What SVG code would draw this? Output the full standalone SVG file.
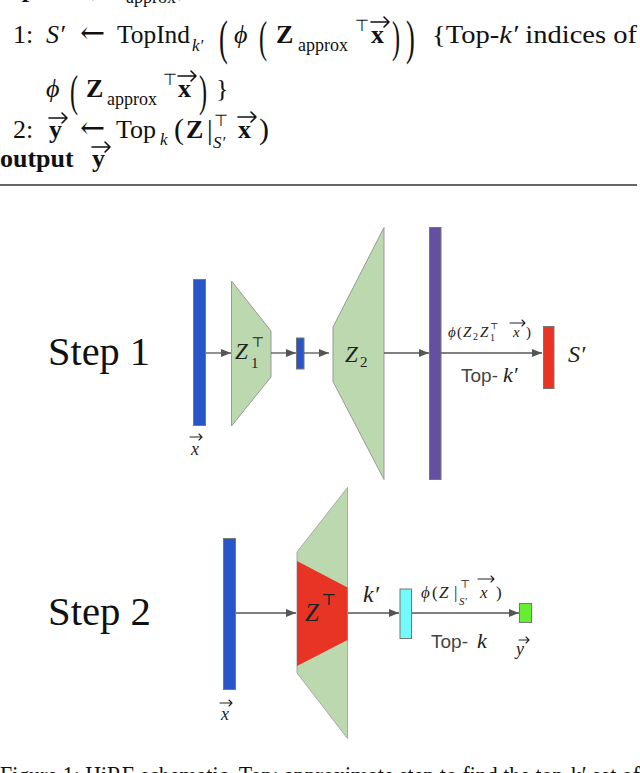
<svg xmlns="http://www.w3.org/2000/svg" width="640" height="773" viewBox="0 0 640 773">
<style>
.t{font-family:"Liberation Serif","Times New Roman",serif;fill:#111}
.ar{font-family:"DejaVu Serif",serif;fill:#111}
.i{font-style:italic}
.b{font-weight:bold}
.m{font-family:"Liberation Serif","DejaVu Serif",serif;fill:#222}
.s{font-family:"Liberation Sans",Arial,sans-serif;fill:#444}
.bar{stroke:#777;stroke-width:1}
.conn{stroke:#555;stroke-width:1.3;fill:none}
.vec{stroke:#222;stroke-width:1.1;fill:none;stroke-linecap:round;stroke-linejoin:round}
.avec{stroke:#111;stroke-width:1.6;fill:none;stroke-linecap:round;stroke-linejoin:round}
</style>
<defs>
<marker id="ah" markerWidth="10" markerHeight="8" refX="10" refY="4" orient="auto" markerUnits="userSpaceOnUse"><path d="M0,0 L10,4 L0,8 z" fill="#555"/></marker>
</defs>
<rect width="640" height="773" fill="#fff"/>

<!-- Algorithm text -->
<g id="algorithm">
<text class="t" font-size="26" y="-3"><tspan x="0" class="b">input</tspan><tspan x="74" class="b">Z</tspan><tspan>,</tspan><tspan class="b" x="104">Z</tspan></text>
<text class="t" font-size="18" x="126" y="3">approx</text>
<text class="t" font-size="26" x="178" y="-3">,</text>

<text class="t" font-size="26" x="13" y="43">1:</text>
<text class="t i" font-size="26" x="46" y="43">S′</text>
<text class="ar" font-size="30" x="80" y="43">←</text>
<text class="t" font-size="26" x="117" y="43" textLength="73" lengthAdjust="spacingAndGlyphs">TopInd</text>
<text class="t i" font-size="17" x="192" y="51">k′</text>
<text class="t" font-size="48" transform="translate(219,54) scale(0.55,1)">(</text>
<text class="t i" font-size="26" x="234" y="43">ϕ</text>
<text class="t" font-size="44" transform="translate(259,52) scale(0.55,1)">(</text>
<text class="t b" font-size="26" x="276" y="43">Z</text>
<text class="t" font-size="18" x="298" y="51">approx</text>
<text class="t" font-size="16" x="355" y="31">⊤</text>
<text class="t b" font-size="26" x="371" y="43">x</text>
<path class="avec" d="M371,22 H389 M384,17 L389,22 L384,27"/>
<text class="t" font-size="44" transform="translate(392,52) scale(0.55,1)">)</text>
<text class="t" font-size="48" transform="translate(406,54) scale(0.55,1)">)</text>
<text class="t" font-size="26" x="432" y="43" textLength="205" lengthAdjust="spacingAndGlyphs">{Top-<tspan class="i">k′</tspan> indices of</text>

<text class="t i" font-size="26" x="46" y="97">ϕ</text>
<text class="t" font-size="44" transform="translate(70,106) scale(0.55,1)">(</text>
<text class="t b" font-size="26" x="86" y="97">Z</text>
<text class="t" font-size="18" x="107" y="105">approx</text>
<text class="t" font-size="16" x="163" y="85">⊤</text>
<text class="t b" font-size="26" x="178" y="97">x</text>
<path class="avec" d="M178,76 H196 M191,71 L196,76 L191,81"/>
<text class="t" font-size="44" transform="translate(199,106) scale(0.55,1)">)</text>
<text class="t" font-size="26" x="216" y="97">}</text>

<text class="t" font-size="26" x="13" y="138">2:</text>
<text class="t b" font-size="26" x="49" y="138">y</text>
<path class="avec" d="M49,118 H67 M62,113 L67,118 L62,123"/>
<text class="ar" font-size="30" x="80" y="138">←</text>
<text class="t" font-size="26" x="116" y="138">Top</text>
<text class="t i" font-size="17" x="160" y="145">k</text>
<text class="t" font-size="30" x="174" y="139">(</text>
<text class="t b" font-size="26" x="186" y="138">Z</text>
<text class="t" font-size="28" x="207" y="139">|</text>
<text class="t" font-size="16" x="214" y="126">⊤</text>
<text class="t i" font-size="17" x="213" y="148">S′</text>
<text class="t b" font-size="26" x="238" y="138">x</text>
<path class="avec" d="M238,117 H256 M251,112 L256,117 L251,122"/>
<text class="t" font-size="30" x="259" y="139">)</text>

<text class="t b" font-size="26" x="0" y="167">output</text>
<text class="t b" font-size="26" x="92" y="167">y</text>
<path class="avec" d="M92,147 H110 M105,142 L110,147 L105,152"/>
</g>
<line x1="0" y1="185" x2="637" y2="185" stroke="#333" stroke-width="1.6"/>

<!-- Step 1 -->
<text class="t" font-size="41" x="48" y="365" textLength="102" lengthAdjust="spacingAndGlyphs" fill="#222">Step 1</text>

<g id="x1">
<rect class="bar" x="193.5" y="279.5" width="12" height="146" fill="#2a55c8"/>
<path class="vec" d="M190,437 H202 M199,434 L202,437 L199,440"/>
<text class="m i" font-size="18" x="191" y="455">x</text>
</g>
<g id="z1t">
<polygon points="231.5,281 271,331 271,377 231.5,426" fill="#bcd8ae" stroke="#999" stroke-width="1"/>
<text class="m i" font-size="23" x="235" y="359">Z</text>
<text class="m" font-size="14" x="251" y="347">⊤</text>
<text class="m" font-size="15" x="251" y="368">1</text>
</g>
<g id="h1">
<rect class="bar" x="296.5" y="338" width="7.5" height="31" fill="#2a55c8"/>
</g>
<g id="z2">
<polygon points="333,327 384,227.5 384,479.5 333,381.5" fill="#bcd8ae" stroke="#999" stroke-width="1"/>
<text class="m i" font-size="23" x="345" y="362">Z</text>
<text class="m" font-size="15" x="360" y="367">2</text>
</g>
<g id="act1">
<rect class="bar" x="429.5" y="227.5" width="11.5" height="252" fill="#6450a0"/>
</g>
<g id="sprime">
<rect class="bar" x="543.5" y="326.5" width="10.5" height="62" fill="#e83424"/>
<text class="m i" font-size="24" x="568" y="362">S′</text>
</g>
<g id="labels1">
<text class="m i" font-size="15" x="448" y="337">ϕ</text>
<text class="m" font-size="15" x="457" y="337">(</text>
<text class="m i" font-size="15" x="463" y="337">Z</text>
<text class="m" font-size="10" x="473" y="340">2</text>
<text class="m i" font-size="15" x="480" y="337">Z</text>
<text class="m" font-size="9" x="490" y="329">⊤</text>
<text class="m" font-size="10" x="490" y="341">1</text>
<text class="m i" font-size="15" x="513" y="337">x</text>
<path class="vec" d="M510,323 H525 M522,320 L525,323 L522,326"/>
<text class="m" font-size="15" x="526" y="337">)</text>
<text class="s" font-size="19" x="461" y="382">Top-</text>
<text class="m i" font-size="22" x="503" y="382">k′</text>
</g>

<!-- Step 2 -->
<text class="t" font-size="41" x="48" y="625" textLength="103" lengthAdjust="spacingAndGlyphs" fill="#222">Step 2</text>

<g id="x2">
<rect class="bar" x="223.5" y="538.5" width="12" height="151" fill="#2a55c8"/>
<path class="vec" d="M220,703 H232 M229,700 L232,703 L229,706"/>
<text class="m i" font-size="18" x="221" y="720">x</text>
</g>
<g id="zt">
<polygon points="297,552 347.5,487.5 347.5,738.5 297,673" fill="#bcd8ae" stroke="#aaa" stroke-width="1"/>
<polygon points="297,561 347.5,587.5 347.5,640 297,666" fill="#e83424"/>
<text class="m i" font-size="25" x="305" y="621">Z</text>
<text class="m" font-size="16" x="321" y="605">⊤</text>
</g>
<g id="kprime">
<rect class="bar" x="400" y="589" width="11.5" height="49.5" fill="#72fbfb"/>
<text class="m i" font-size="24" x="363" y="602">k′</text>
</g>
<g id="yout">
<rect class="bar" x="519.5" y="603.5" width="12" height="19" fill="#66ee33"/>
<text class="m i" font-size="18" x="516" y="655">y</text>
<path class="vec" d="M519,640 H529 M526,637 L529,640 L526,643"/>
</g>
<g id="labels2">
<text class="m i" font-size="17" x="421" y="598">ϕ</text>
<text class="m" font-size="17" x="432" y="598">(</text>
<text class="m i" font-size="17" x="439" y="598">Z</text>
<text class="m" font-size="17" x="454" y="598">|</text>
<text class="m" font-size="11" x="460" y="588">⊤</text>
<text class="m i" font-size="11" x="459" y="605">S′</text>
<text class="m i" font-size="17" x="480" y="598">x</text>
<path class="vec" d="M478,579 H494 M491,576 L494,579 L491,582"/>
<text class="m" font-size="17" x="496" y="598">)</text>
<text class="s" font-size="19" x="431" y="648">Top-</text>
<text class="m i" font-size="22" x="477" y="648">k</text>
</g>

<!-- connectors -->
<g id="connectors">
<line class="conn" x1="206" y1="353" x2="231" y2="353" marker-end="url(#ah)"/>
<line class="conn" x1="271" y1="353" x2="296" y2="353" marker-end="url(#ah)"/>
<line class="conn" x1="304" y1="353" x2="329" y2="353" marker-end="url(#ah)"/>
<line class="conn" x1="384" y1="353" x2="429" y2="353" marker-end="url(#ah)"/>
<line class="conn" x1="441" y1="353" x2="542" y2="353" marker-end="url(#ah)"/>
<line class="conn" x1="236" y1="613" x2="296" y2="613" marker-end="url(#ah)"/>
<line class="conn" x1="348" y1="613" x2="399" y2="613" marker-end="url(#ah)"/>
<line class="conn" x1="412" y1="613" x2="519" y2="613" marker-end="url(#ah)"/>
</g>

<text class="t" font-size="26" x="0" y="784" textLength="640" lengthAdjust="spacingAndGlyphs">Figure 1: HiRE schematic. Top: approximate step to find the top-k′ set of</text>
</svg>
